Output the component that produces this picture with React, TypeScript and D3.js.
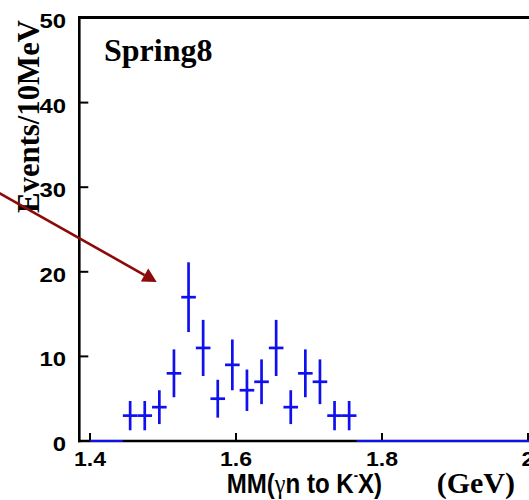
import React from "react";
import * as d3 from "d3";

// ---- data ----
const binCenters = [1.455, 1.475, 1.495, 1.515, 1.535, 1.555, 1.575, 1.595, 1.615, 1.635, 1.655, 1.675, 1.695, 1.715, 1.735, 1.755];
const counts = [3, 3, 4, 8, 17, 11, 5, 9, 6, 7, 11, 4, 8, 7, 3, 3];
const binWidth = 0.02;
const zeroRanges: [number, number][] = [[1.4, 1.445], [1.765, 2.05]];
const xTicks = [1.4, 1.6, 1.8, 2.0];
const xTickLabels = ["1.4", "1.6", "1.8", "2"];
const yTicks = [0, 10, 20, 30, 40, 50];
const yTickLabels = ["0", "10", "20", "30", "40", "50"];
const arrowFrom: [number, number] = [1.26, 30.08];
const arrowTo: [number, number] = [1.4914, 18.8];

const W = 529;
const H = 500;
const BLUE = "#1010ee";
const RED = "#8c0a0a";
const SANS = "'Liberation Sans', Arial, sans-serif";
const SERIF = "'Liberation Serif', 'Times New Roman', serif";

export default function App() {
  const x = d3.scaleLinear().domain([1.4, 2.0]).range([90, 528]);
  const y = d3.scaleLinear().domain([0, 50]).range([441, 18]);
  const axisX = 79.3;

  // arrow geometry
  const [ax0, ay0] = [x(arrowFrom[0]), y(arrowFrom[1])];
  const [ax1, ay1] = [x(arrowTo[0]), y(arrowTo[1])];
  const len = Math.hypot(ax1 - ax0, ay1 - ay0);
  const dx = (ax1 - ax0) / len;
  const dy = (ay1 - ay0) / len;
  const headL = 14;
  const headW = 7.5;
  const bx = ax1 - headL * dx;
  const by = ay1 - headL * dy;
  const head = [
    [ax1, ay1],
    [bx - headW * dy, by + headW * dx],
    [bx + headW * dy, by - headW * dx],
  ];

  return (
    <svg
      width={W}
      height={H}
      style={{ position: "absolute", left: 0, top: 0, background: "#fff" }}
    >
      <rect x={0} y={0} width={W} height={H} fill="#fff" />

      {/* frame */}
      <line x1={axisX} x2={W + 5} y1={17.5} y2={17.5} stroke="#000" strokeWidth={3} />
      <line x1={axisX} x2={axisX} y1={16} y2={y(0) + 1.3} stroke="#000" strokeWidth={2.6} />
      <line x1={axisX - 1.3} x2={W + 5} y1={y(0)} y2={y(0)} stroke="#000" strokeWidth={2.6} />

      {/* y ticks */}
      {yTicks.map((t, i) => (
        <g key={"yt" + i}>
          {t > 0 && t < 50 && (
            <line x1={axisX} x2={axisX + 9} y1={y(t)} y2={y(t)} stroke="#000" strokeWidth={2} />
          )}
          <text
            x={66}
            y={y(t) + 10}
            textAnchor="end"
            fontFamily={SANS}
            fontWeight="bold"
            fontSize={21}
            textLength={yTickLabels[i].length * 13.3}
            lengthAdjust="spacingAndGlyphs"
            fill="#000"
          >
            {yTickLabels[i]}
          </text>
        </g>
      ))}

      {/* x ticks */}
      {xTicks.map((t, i) => (
        <g key={"xt" + i}>
          <line x1={x(t)} x2={x(t)} y1={y(0)} y2={y(0) - 8} stroke="#000" strokeWidth={2} />
          <text
            x={x(t)}
            y={466}
            textAnchor="middle"
            fontFamily={SANS}
            fontWeight="bold"
            fontSize={19.5}
            textLength={xTickLabels[i].length === 1 ? 13 : 32}
            lengthAdjust="spacingAndGlyphs"
            fill="#000"
          >
            {xTickLabels[i]}
          </text>
        </g>
      ))}

      {/* zero bins */}
      {zeroRanges.map((r, i) => (
        <line
          key={"z" + i}
          x1={x(r[0])}
          x2={x(r[1])}
          y1={y(0)}
          y2={y(0)}
          stroke={BLUE}
          strokeWidth={2.2}
        />
      ))}

      {/* data points with error bars */}
      {binCenters.map((c, i) => {
        const n = counts[i];
        const e = Math.sqrt(n);
        return (
          <g key={"p" + i} stroke={BLUE} strokeWidth={2.7}>
            <line x1={x(c - binWidth / 2)} x2={x(c + binWidth / 2)} y1={y(n)} y2={y(n)} />
            <line x1={x(c)} x2={x(c)} y1={y(n + e)} y2={y(n - e)} />
          </g>
        );
      })}

      {/* annotations */}
      <text x={104} y={61} fontFamily={SERIF} fontWeight="bold" fontSize={32} fill="#000">
        Spring8
      </text>

      <text
        transform={`translate(39,116.5) rotate(-90)`}
        textAnchor="middle"
        fontFamily={SERIF}
        fontWeight="bold"
        fontSize={31}
        textLength={193}
        lengthAdjust="spacingAndGlyphs"
        fill="#000"
      >
        Events/10MeV
      </text>

      <text
        transform={`translate(226.7,493.3) scale(0.86,1)`}
        fontFamily={SANS}
        fontWeight="bold"
        fontSize={28}
        fill="#000"
      >
        <tspan>MM(</tspan>
        <tspan fontFamily={SERIF} fontWeight="normal">γ</tspan>
        <tspan>n to K</tspan>
        <tspan fontSize={15} dy={-13}>-</tspan>
        <tspan dy={13}>X)</tspan>
      </text>

      <text x={436.7} y={493} fontFamily={SERIF} fontWeight="bold" fontSize={30} fill="#000">
        (GeV)
      </text>

      {/* arrow */}
      <line x1={ax0} y1={ay0} x2={bx} y2={by} stroke={RED} strokeWidth={2.6} />
      <polygon points={head.map((p) => p.join(",")).join(" ")} fill={RED} />
    </svg>
  );
}
